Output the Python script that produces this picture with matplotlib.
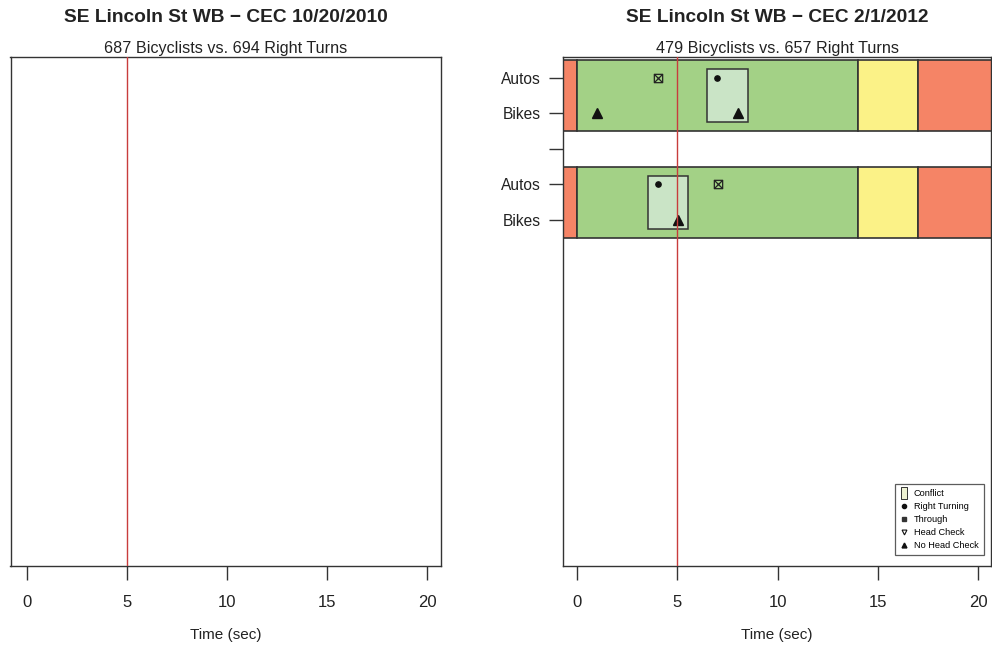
import matplotlib
matplotlib.use("Agg")
import matplotlib.pyplot as plt
from matplotlib.patches import Rectangle
from matplotlib.path import Path
from matplotlib.lines import Line2D

plt.rcParams['font.family'] = ['Liberation Sans', 'DejaVu Sans']

# ---------------- data ----------------
titles = ["SE Lincoln St WB \u2212 CEC 10/20/2010", "SE Lincoln St WB \u2212 CEC 2/1/2012"]
subtitles = ["687 Bicyclists vs. 694 Right Turns", "479 Bicyclists vs. 657 Right Turns"]
x_ticks = [0, 5, 10, 15, 20]
ref_time = 5

row_labels = ["Autos", "Bikes", "", "Autos", "Bikes"]
row_pos = [1, 2, 3, 4, 5]

# signal phases (sec) for each cycle block
phase_start = [-1, 0, 14, 17]
phase_end = [0, 14, 17, 21]
phase_color = ["#F58466", "#A3D186", "#FBF287", "#F58466"]
block_top = [0.5, 3.5]
block_bottom = [2.5, 5.5]

# conflicts
conflict_start = [6.5, 3.55]
conflict_end = [8.55, 5.55]
conflict_top = [0.75, 3.75]
conflict_bottom = [2.25, 5.25]

# events
right_turn_t = [7.0, 4.05]
right_turn_y = [1, 4]
through_t = [4.05, 7.05]
through_y = [1, 4]
nohead_t = [1.0, 8.05, 5.05]
nohead_y = [2, 2, 5]

legend_labels = ["Conflict", "Right Turning", "Through", "Head Check", "No Head Check"]

# ---------------- figure ----------------
W, H = 992, 647
fig = plt.figure(figsize=(W / 100, H / 100), dpi=100)

def fx(px):
    return px / W

def fy(py):
    return 1 - py / H

top_px, bot_px = 57, 566
axL = fig.add_axes([fx(10.5), fy(bot_px), fx(441) - fx(10.5), fy(top_px) - fy(bot_px)])
axR = fig.add_axes([fx(563), fy(bot_px), fx(991) - fx(563), fy(top_px) - fy(bot_px)])

ylim = (14.75, 0.41)
for ax, xl in ((axL, (-0.82, 20.7)), (axR, (-0.7, 20.65))):
    ax.set_xlim(*xl)
    ax.set_ylim(*ylim)
    ax.set_xticks(x_ticks)
    ax.set_xticklabels([str(t) for t in x_ticks], fontsize=12, color='#222222')
    ax.tick_params(axis='x', length=10, width=1, color='#333333', pad=11)
    ax.set_xlabel("Time (sec)", fontsize=11, labelpad=13, color='#222222')
    for s in ax.spines.values():
        s.set_color('#333333')
        s.set_linewidth(1)
    ax.axvline(ref_time, color='#C83C3C', lw=1, zorder=10)

for ax, t, st in ((axL, titles[0], subtitles[0]), (axR, titles[1], subtitles[1])):
    cx = (ax.get_position().x0 + ax.get_position().x1) / 2
    fig.text(cx, fy(17), t, ha='center', va='center', fontsize=13.8, fontweight='bold', color='#222222')
    fig.text(cx, fy(49), st, ha='center', va='center', fontsize=11.6, color='#222222')

axL.set_yticks([])

# right panel content
axR.set_yticks(row_pos)
axR.set_yticklabels(row_labels, fontsize=11.2, color='#222222')
axR.tick_params(axis='y', length=10, width=1, color='#333333', pad=6)

for bt, bb in zip(block_top, block_bottom):
    for s, e, c in zip(phase_start, phase_end, phase_color):
        axR.add_patch(Rectangle((s, bt), e - s, bb - bt, facecolor=c, edgecolor='#333333', lw=1.2, zorder=1))

for s, e, t, b in zip(conflict_start, conflict_end, conflict_top, conflict_bottom):
    axR.add_patch(Rectangle((s, t), e - s, b - t, facecolor='#CAE4C6', edgecolor='#333333', lw=1.1, zorder=2))

sqx = Path([(-1, -1), (1, -1), (1, 1), (-1, 1), (-1, -1), (-1, -1), (1, 1), (-1, 1), (1, -1)],
           [Path.MOVETO, Path.LINETO, Path.LINETO, Path.LINETO, Path.CLOSEPOLY,
            Path.MOVETO, Path.LINETO, Path.MOVETO, Path.LINETO])

axR.plot(right_turn_t, right_turn_y, 'o', color='#111111', ms=3.8, zorder=5, linestyle='none')
axR.plot(through_t, through_y, marker=sqx, color='#222222', mfc='none', mew=0.9, ms=6, zorder=5, linestyle='none')
axR.plot(nohead_t, nohead_y, '^', color='#111111', ms=7.5, zorder=5, linestyle='none')

# legend
tall_rect = Path([(-0.55, -1), (0.55, -1), (0.55, 1), (-0.55, 1), (-0.55, -1)],
                 [Path.MOVETO, Path.LINETO, Path.LINETO, Path.LINETO, Path.CLOSEPOLY])
handles = [
    Line2D([], [], marker=tall_rect, ls='none', mfc='#EEF2D2', mec='#333333', ms=8, mew=0.7),
    Line2D([], [], marker='o', ls='none', color='#111111', ms=3),
    Line2D([], [], marker='s', ls='none', color='#333333', ms=3),
    Line2D([], [], marker='v', ls='none', mfc='none', mec='#111111', ms=3.5, mew=0.8),
    Line2D([], [], marker='^', ls='none', color='#111111', ms=3.5),
]
leg = axR.legend(handles, legend_labels, loc='lower right', bbox_to_anchor=(0.983, 0.022),
                 fontsize=6.6, frameon=True, fancybox=False, handlelength=0.9,
                 handletextpad=0.6, labelspacing=0.42, borderpad=0.55, borderaxespad=0)
leg.get_frame().set_edgecolor('#333333')
leg.get_frame().set_linewidth(0.9)

fig.savefig("out.png", dpi=100)
